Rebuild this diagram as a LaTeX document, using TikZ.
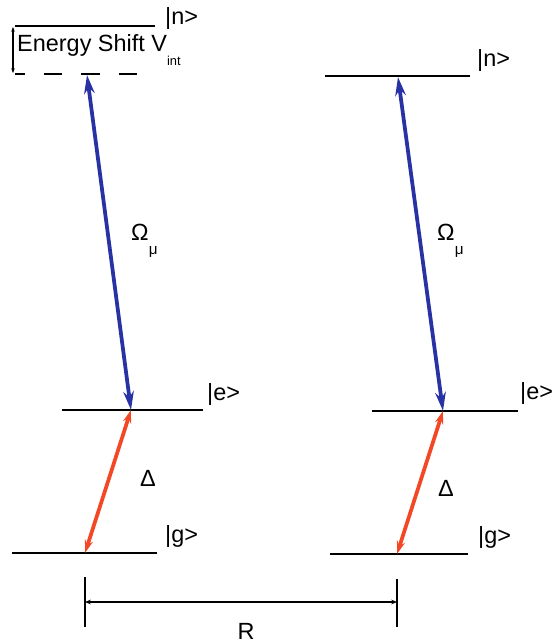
\documentclass[tikz,border=0pt]{standalone}
\usepackage{fontspec}
\setmainfont{Liberation Sans}
\usetikzlibrary{arrows.meta}
\definecolor{omegablue}{RGB}{40,50,165}
\definecolor{deltared}{RGB}{242,72,38}
\begin{document}
\begin{tikzpicture}[x=0.03cm,y=-0.03cm,
  level/.style={line width=2pt},
  pump/.style={line width=3.2pt,color=omegablue,{Stealth[length=16pt,width=9pt]}-{Stealth[length=16pt,width=9pt]}},
  probe/.style={line width=3.2pt,color=deltared,{Stealth[length=11pt,width=7pt]}-{Stealth[length=11pt,width=7pt]}},
  lbl/.style={inner sep=0pt,font=\fontsize{20}{24}\selectfont}]
\useasboundingbox (0,0) rectangle (554,644);

% left atom
\coordinate (nL1) at (15,26);
\coordinate (nL2) at (155,26);
\coordinate (sL1) at (15,74);
\coordinate (sL2) at (150,74);
\coordinate (eL1) at (62,410);
\coordinate (eL2) at (203,410);
\coordinate (gL1) at (12,553);
\coordinate (gL2) at (157,553);
\coordinate (aL) at (87,75);
\coordinate (bL) at (131,410);
\coordinate (cL) at (85,553);
\draw[level] (nL1) -- (nL2);
\draw[level,dash pattern=on 16pt off 16pt,dash phase=7.5pt] (sL1) -- (sL2);
\draw[level] (eL1) -- (eL2);
\draw[level] (gL1) -- (gL2);
\draw[line width=1pt,{Stealth[length=4pt,width=3pt]}-{Stealth[length=4pt,width=3pt]}] (13,27) -- (13,73);
\draw[pump] (aL) -- (bL);
\draw[probe] (bL) -- (cL);

\node (nLl) at (165,18) [lbl,anchor=west] {|n>};
\node (shift) at (17,50) [lbl,anchor=west] {Energy Shift V\raisebox{-1.2ex}{\fontsize{11}{11}\selectfont int}};
\node (eLl) at (207,394) [lbl,anchor=west] {|e>};
\node (gLl) at (165,536) [lbl,anchor=west] {|g>};
\node (omL) at (131,241) [lbl,anchor=west] {Ω\raisebox{-1.1ex}{\fontsize{13}{13}\selectfont μ}};
\node (deL) at (148,478) [lbl] {Δ};

% right atom
\coordinate (nR1) at (325,76);
\coordinate (nR2) at (470,76);
\coordinate (eR1) at (372,411);
\coordinate (eR2) at (518,411);
\coordinate (gR1) at (330,554);
\coordinate (gR2) at (468,554);
\coordinate (aR) at (398,77);
\coordinate (bR) at (443,411);
\coordinate (cR) at (397,554);
\draw[level] (nR1) -- (nR2);
\draw[level] (eR1) -- (eR2);
\draw[level] (gR1) -- (gR2);
\draw[pump] (aR) -- (bR);
\draw[probe] (bR) -- (cR);

\node (nRl) at (477,60) [lbl,anchor=west] {|n>};
\node (eRl) at (520,393) [lbl,anchor=west] {|e>};
\node (gRl) at (478,537) [lbl,anchor=west] {|g>};
\node (omR) at (437,241) [lbl,anchor=west] {Ω\raisebox{-1.1ex}{\fontsize{13}{13}\selectfont μ}};
\node (deR) at (446,488) [lbl] {Δ};

% distance
\coordinate (rA) at (85,602);
\coordinate (rB) at (397,602);
\draw[level] (85,577) -- (85,627);
\draw[level] (397,579) -- (397,627);
\draw[line width=1.3pt,{Stealth[length=5pt,width=4pt]}-{Stealth[length=5pt,width=4pt]}] (rA) -- (rB);
\node (dist) at (246,639) [lbl,anchor=base] {R};
\end{tikzpicture}
\end{document}
